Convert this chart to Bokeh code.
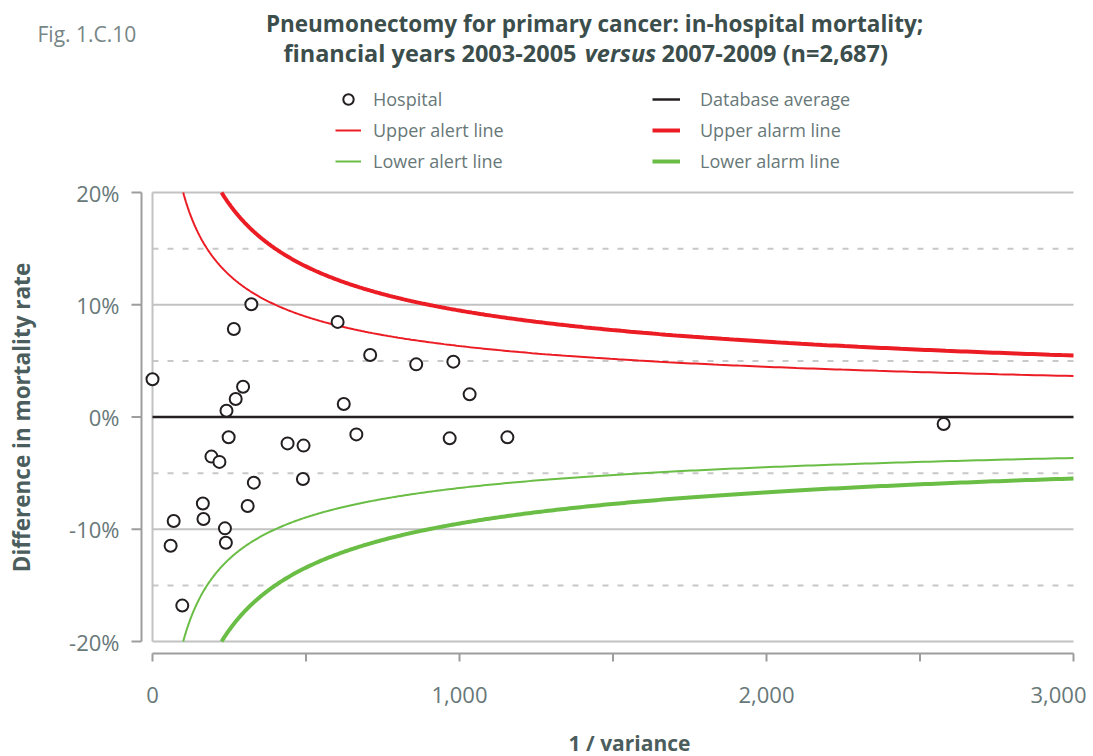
import numpy as np
from bokeh.plotting import figure
from bokeh.models import Range1d, Legend, LegendItem
from bokeh.core.properties import value
from bokeh.embed import file_html
from bokeh.resources import INLINE

# ---------------- data ----------------
FIG_LABEL = "Fig. 1.C.10"
TITLE_1 = "Pneumonectomy for primary cancer: in-hospital mortality;"
TITLE_2A = "financial years 2003-2005"
TITLE_2B = "versus"
TITLE_2C = "2007-2009 (n=2,687)"
X_LABEL = "1 / variance"
Y_LABEL = "Difference in mortality rate"

hosp_inv_var = [0, 322, 265, 603, 709, 295, 271, 241, 623, 248, 440, 492, 664,
                192, 218, 330, 490, 310, 164, 166, 69, 59, 236, 239, 97,
                859, 980, 1033, 968, 1156, 2577]
hosp_diff = [3.36, 10.04, 7.84, 8.47, 5.53, 2.70, 1.60, 0.56, 1.16, -1.81, -2.35,
             -2.55, -1.55, -3.53, -4.0, -5.85, -5.53, -7.93, -7.7, -9.09, -9.27,
             -11.47, -9.92, -11.2, -16.8, 4.69, 4.93, 2.02, -1.90, -1.81, -0.62]

x_ticks = [0, 500, 1000, 1500, 2000, 2500, 3000]
x_tick_labels = ["0", "", "1,000", "", "2,000", "", "3,000"]
y_ticks = [-20, -10, 0, 10, 20]
y_tick_labels = ["-20%", "-10%", "0%", "10%", "20%"]
y_grid_solid = [-20, -10, 10, 20]
y_grid_dashed = [-15, -5, 5, 15]
ALERT_Z = 2.0   # alert line: 2 standard deviations
ALARM_Z = 3.0   # alarm line: 3 standard deviations
X_MAX = 3000
Y_LIM = 20

# ---------------- style / layout ----------------
W, H = 1093, 756
PX_L, PX_R, PX_T, PX_B = 152, 1073, 192, 641   # plot area in pixels
RED = "#ec1c24"
GREEN = "#6abd45"
BLACK = "#231f20"
GRID = "#c2c2c2"
AXIS = "#9d9d9d"
TXT = "#687878"
DARK = "#3c4e4c"
FONT = "Open Sans"

SX = X_MAX / (PX_R - PX_L)          # data units per pixel (x)
SY = 2 * Y_LIM / (PX_B - PX_T)      # data units per pixel (y)
def px_x(px):
    return (px - PX_L) * SX
def px_y(py):
    return Y_LIM - (py - PX_T) * SY

p = figure(width=W, height=H, x_range=Range1d(px_x(0), px_x(W)),
           y_range=Range1d(px_y(H), px_y(0)),
           output_backend="svg", toolbar_location=None,
           x_axis_location=None, y_axis_location=None, min_border=0)
p.outline_line_color = None
p.grid.visible = False

# grid lines (limited to the plot area)
n_s, n_d = len(y_grid_solid), len(y_grid_dashed)
p.segment(x0=[0] * n_s, y0=y_grid_solid, x1=[X_MAX] * n_s, y1=y_grid_solid,
          line_color=GRID, line_width=2)
p.segment(x0=[0] * n_d, y0=y_grid_dashed, x1=[X_MAX] * n_d, y1=y_grid_dashed,
          line_color="#c8c8c8", line_width=2, line_dash="6 9")
p.segment(x0=[0], y0=[-Y_LIM], x1=[0], y1=[Y_LIM], line_color=GRID, line_width=2)
r_avg = p.line(x=[0, X_MAX], y=[0, 0], line_color=BLACK, line_width=2.5)

# axes drawn by hand (offset from the plot area, as in the original)
yax_x = px_x(PX_L - 11)
p.segment(x0=[yax_x], y0=[-Y_LIM], x1=[yax_x], y1=[Y_LIM], line_color=AXIS, line_width=2)
p.segment(x0=[px_x(PX_L - 21)] * len(y_ticks), y0=y_ticks, x1=[yax_x] * len(y_ticks),
          y1=y_ticks, line_color=AXIS, line_width=2)
p.text(x=[px_x(119)] * len(y_ticks), y=y_ticks, text=y_tick_labels,
       text_font=value(FONT), text_font_size="22px", text_color=TXT,
       text_align="right", text_baseline="middle")

xax_y = px_y(PX_B + 12)
p.segment(x0=[0], y0=[xax_y], x1=[X_MAX], y1=[xax_y], line_color=AXIS, line_width=2)
p.segment(x0=x_ticks, y0=[xax_y] * len(x_ticks), x1=x_ticks,
          y1=[px_y(PX_B + 20)] * len(x_ticks), line_color=AXIS, line_width=2)
p.text(x=x_ticks[:-1], y=[px_y(694)] * (len(x_ticks) - 1), text=x_tick_labels[:-1],
       text_font=value(FONT), text_font_size="22px", text_color=TXT,
       text_align="center", text_baseline="middle")
p.text(x=[px_x(1086)], y=[px_y(694)], text=[x_tick_labels[-1]],
       text_font=value(FONT), text_font_size="22px", text_color=TXT,
       text_align="right", text_baseline="middle")

p.text(x=[px_x(629)], y=[px_y(742)], text=[X_LABEL], text_font=value(FONT),
       text_font_style="bold", text_font_size="21px", text_color="#4b5d5c",
       text_align="center", text_baseline="middle")
p.text(x=[px_x(21)], y=[px_y(417)], text=[Y_LABEL], angle=np.pi / 2, text_font=value(FONT),
       text_font_style="bold", text_font_size="22.5px", text_color="#4b5d5c",
       text_align="center", text_baseline="middle")

# titles
p.text(x=[px_x(37)], y=[px_y(33)], text=[FIG_LABEL], text_font=value(FONT),
       text_font_size="21px", text_color="#778686", text_align="left",
       text_baseline="middle")
p.text(x=[px_x(594)], y=[px_y(23)], text=[TITLE_1], text_font=value(FONT),
       text_font_style="bold", text_font_size="22.5px", text_color=DARK,
       text_align="center", text_baseline="middle")
p.text(x=[px_x(576)], y=[px_y(52)], text=[TITLE_2A], text_font=value(FONT),
       text_font_style="bold", text_font_size="23.5px", text_color=DARK,
       text_align="right", text_baseline="middle")
p.text(x=[px_x(620)], y=[px_y(52)], text=[TITLE_2B], text_font=value(FONT),
       text_font_style="bold italic", text_font_size="23.5px", text_color=DARK,
       text_align="center", text_baseline="middle")
p.text(x=[px_x(661)], y=[px_y(52)], text=[TITLE_2C], text_font=value(FONT),
       text_font_style="bold", text_font_size="23.5px", text_color=DARK,
       text_align="left", text_baseline="middle")

# funnel limits
def limit_x(z):
    start = (z * 100 / Y_LIM) ** 2
    return np.geomspace(start, X_MAX, 400)

xa = limit_x(ALERT_Z)
xm = limit_x(ALARM_Z)
r_ual = p.line(xa, ALERT_Z * 100 / np.sqrt(xa), line_color=RED, line_width=2)
r_lal = p.line(xa, -ALERT_Z * 100 / np.sqrt(xa), line_color=GREEN, line_width=2)
r_uam = p.line(xm, ALARM_Z * 100 / np.sqrt(xm), line_color=RED, line_width=4)
r_lam = p.line(xm, -ALARM_Z * 100 / np.sqrt(xm), line_color=GREEN, line_width=4)

r_pts = p.scatter(hosp_inv_var, hosp_diff, size=12, line_width=2, line_color=BLACK,
                  fill_color="white")

# legends
def make_legend(items, loc, gw, standoff):
    return Legend(items=items, location=loc, orientation="vertical",
                  label_text_font=FONT, label_text_font_size="18px", label_text_color=TXT,
                  glyph_width=gw, glyph_height=30, label_height=20, label_standoff=standoff,
                  spacing=1, padding=0, margin=0, border_line_color=None,
                  background_fill_alpha=0)

leg1 = make_legend([LegendItem(label="Hospital", renderers=[r_pts]),
                    LegendItem(label="Upper alert line", renderers=[r_ual]),
                    LegendItem(label="Lower alert line", renderers=[r_lal])],
                   (335, H - 176), 26, 12)
leg2 = make_legend([LegendItem(label="Database average", renderers=[r_avg]),
                    LegendItem(label="Upper alarm line", renderers=[r_uam]),
                    LegendItem(label="Lower alarm line", renderers=[r_lam])],
                   (652, H - 176), 28, 20)
p.add_layout(leg1)
p.add_layout(leg2)

open("out.html", "w").write(file_html(p, INLINE))
